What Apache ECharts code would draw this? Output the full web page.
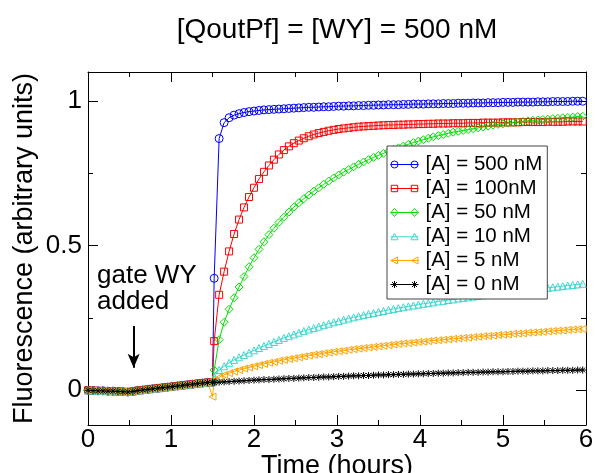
<!DOCTYPE html>
<html>
<head>
<meta charset="utf-8">
<script src="https://cdn.jsdelivr.net/npm/echarts@6/dist/echarts.min.js"></script>
<style>
  html, body { margin: 0; padding: 0; background: #fff; }
  #chart { width: 595px; height: 473px; }
</style>
</head>
<body>
<div id="chart"></div>
<script>
// sample times (hours): before and after the injection at 1.5 h
const preTimes = [0, 0.06, 0.12, 0.18, 0.24, 0.3, 0.36, 0.42, 0.48, 0.54, 0.6, 0.66, 0.72,
  0.78, 0.84, 0.9, 0.96, 1.02, 1.08, 1.14, 1.2, 1.26, 1.32, 1.38, 1.44, 1.5]
const postTimes = [1.52, 1.58, 1.64, 1.7, 1.76, 1.82, 1.88, 1.94, 2, 2.06,
  2.12, 2.18, 2.24, 2.3, 2.36, 2.42, 2.48, 2.54, 2.6, 2.66,
  2.72, 2.78, 2.84, 2.9, 2.96, 3.02, 3.08, 3.14, 3.2, 3.26,
  3.32, 3.38, 3.44, 3.5, 3.56, 3.62, 3.68, 3.74, 3.8, 3.86,
  3.92, 3.98, 4.04, 4.1, 4.16, 4.22, 4.28, 4.34, 4.4, 4.46,
  4.52, 4.58, 4.64, 4.7, 4.76, 4.82, 4.88, 4.94, 5, 5.06,
  5.12, 5.18, 5.24, 5.3, 5.36, 5.42, 5.48, 5.54, 5.6, 5.66,
  5.72, 5.78, 5.84, 5.9, 5.96]

// shared baseline before gate WY / A added (all traces overlap there)
const baseline = [0, -0.001, -0.002, -0.002, -0.003, -0.003, -0.004, -0.005, -0.006, -0.004,
  -0.001, 0.001, 0.003, 0.005, 0.007, 0.009, 0.011, 0.013, 0.015, 0.017,
  0.019, 0.021, 0.023, 0.025, 0.027, 0.028]
const orangeDip = -0.022

const names = ['[A] = 500 nM', '[A] = 100nM', '[A] = 50 nM', '[A] = 10 nM', '[A] = 5 nM', '[A] = 0 nM']

const a500 = [0.387, 0.87, 0.925, 0.942, 0.951, 0.956, 0.96, 0.963, 0.965, 0.967,
  0.969, 0.97, 0.971, 0.972, 0.973, 0.974, 0.975, 0.976, 0.977, 0.978,
  0.978, 0.979, 0.98, 0.98, 0.981, 0.982, 0.982, 0.983, 0.983, 0.984,
  0.984, 0.985, 0.985, 0.986, 0.986, 0.987, 0.987, 0.987, 0.988, 0.988,
  0.989, 0.989, 0.989, 0.99, 0.99, 0.99, 0.991, 0.991, 0.991, 0.992,
  0.992, 0.992, 0.993, 0.993, 0.993, 0.994, 0.994, 0.994, 0.995, 0.995,
  0.995, 0.996, 0.996, 0.996, 0.996, 0.997, 0.997, 0.997, 0.998, 0.998,
  0.998, 0.998, 0.999, 0.999, 0.999]
const a100 = [0.17, 0.33, 0.41, 0.48, 0.54, 0.59, 0.632, 0.668, 0.7, 0.73,
  0.755, 0.777, 0.797, 0.815, 0.83, 0.843, 0.854, 0.863, 0.871, 0.878,
  0.884, 0.889, 0.893, 0.897, 0.9, 0.903, 0.905, 0.907, 0.909, 0.911,
  0.912, 0.913, 0.914, 0.915, 0.916, 0.917, 0.917, 0.918, 0.918, 0.919,
  0.919, 0.92, 0.92, 0.921, 0.921, 0.922, 0.922, 0.922, 0.923, 0.923,
  0.923, 0.924, 0.924, 0.924, 0.925, 0.925, 0.925, 0.925, 0.926, 0.926,
  0.926, 0.926, 0.927, 0.927, 0.927, 0.927, 0.927, 0.928, 0.928, 0.928,
  0.928, 0.929, 0.929, 0.929, 0.929]
const a50 = [0.07, 0.175, 0.235, 0.28, 0.32, 0.357, 0.393, 0.427, 0.458, 0.487,
  0.513, 0.538, 0.56, 0.58, 0.598, 0.616, 0.633, 0.648, 0.662, 0.675,
  0.688, 0.7, 0.712, 0.723, 0.734, 0.744, 0.754, 0.763, 0.772, 0.781,
  0.789, 0.797, 0.805, 0.812, 0.819, 0.826, 0.832, 0.838, 0.844, 0.85,
  0.856, 0.861, 0.866, 0.871, 0.876, 0.88, 0.884, 0.888, 0.892, 0.895,
  0.898, 0.901, 0.904, 0.907, 0.91, 0.913, 0.916, 0.919, 0.921, 0.923,
  0.925, 0.927, 0.929, 0.931, 0.933, 0.934, 0.936, 0.937, 0.939, 0.94,
  0.942, 0.943, 0.944, 0.946, 0.947]
const a10 = [0.045, 0.07, 0.083, 0.095, 0.105, 0.114, 0.122, 0.13, 0.138, 0.146,
  0.153, 0.16, 0.167, 0.174, 0.181, 0.187, 0.193, 0.199, 0.205, 0.21,
  0.215, 0.22, 0.225, 0.23, 0.235, 0.239, 0.244, 0.248, 0.252, 0.256,
  0.26, 0.264, 0.267, 0.271, 0.274, 0.278, 0.281, 0.284, 0.287, 0.29,
  0.293, 0.296, 0.299, 0.301, 0.304, 0.307, 0.309, 0.312, 0.314, 0.317,
  0.319, 0.321, 0.324, 0.326, 0.328, 0.33, 0.332, 0.334, 0.336, 0.338,
  0.34, 0.342, 0.344, 0.346, 0.348, 0.35, 0.352, 0.354, 0.356, 0.358,
  0.36, 0.362, 0.364, 0.366, 0.368]
const a5 = [0.035, 0.045, 0.053, 0.059, 0.065, 0.07, 0.075, 0.079, 0.083, 0.087,
  0.091, 0.095, 0.098, 0.102, 0.105, 0.108, 0.111, 0.114, 0.117, 0.12,
  0.123, 0.125, 0.128, 0.13, 0.133, 0.135, 0.137, 0.14, 0.142, 0.144,
  0.146, 0.148, 0.15, 0.152, 0.154, 0.156, 0.158, 0.16, 0.162, 0.163,
  0.165, 0.167, 0.168, 0.17, 0.172, 0.173, 0.175, 0.176, 0.178, 0.179,
  0.181, 0.182, 0.184, 0.185, 0.187, 0.188, 0.189, 0.191, 0.192, 0.193,
  0.195, 0.196, 0.197, 0.199, 0.2, 0.201, 0.202, 0.204, 0.205, 0.206,
  0.207, 0.209, 0.21, 0.211, 0.212]
const a0 = [0.027, 0.028, 0.029, 0.03, 0.031, 0.032, 0.033, 0.034, 0.035, 0.036,
  0.037, 0.037, 0.038, 0.039, 0.04, 0.041, 0.041, 0.042, 0.043, 0.044,
  0.044, 0.045, 0.046, 0.046, 0.047, 0.048, 0.048, 0.049, 0.05, 0.05,
  0.051, 0.051, 0.052, 0.053, 0.053, 0.054, 0.054, 0.055, 0.055, 0.056,
  0.056, 0.057, 0.057, 0.058, 0.058, 0.059, 0.059, 0.06, 0.06, 0.061,
  0.061, 0.062, 0.062, 0.062, 0.063, 0.063, 0.064, 0.064, 0.064, 0.065,
  0.065, 0.066, 0.066, 0.066, 0.067, 0.067, 0.067, 0.068, 0.068, 0.068,
  0.069, 0.069, 0.069, 0.07, 0.07]

const yMajor = [0, 0.5, 1]
const yMinor = [0.25, 0.75]

// arrow "gate WY added"
const arrowTime = 0.55
const arrowFrom = 0.222
const arrowTo = 0.078

const FONT = '"Liberation Sans", Arial, Helvetica, sans-serif'
const asterisk = 'path://M0,-1L0,1M-1,0L1,0M-0.7,-0.7L0.7,0.7M-0.7,0.7L0.7,-0.7'

// legend icons: a line with one marker at each end (28 x 10 box)
const legendLine = 'M0,5L28,5'
const legendIcons = [
  'path://' + legendLine + 'M7.5,5A3.5,3.5 0 1 1 0.5,5A3.5,3.5 0 1 1 7.5,5M27.5,5A3.5,3.5 0 1 1 20.5,5A3.5,3.5 0 1 1 27.5,5',
  'path://' + legendLine + 'M0.8,1.8L7.2,1.8L7.2,8.2L0.8,8.2ZM20.8,1.8L27.2,1.8L27.2,8.2L20.8,8.2Z',
  'path://' + legendLine + 'M4,1L7.5,5L4,9L0.5,5ZM24,1L27.5,5L24,9L20.5,5Z',
  'path://' + legendLine + 'M4,1.5L7.5,8L0.5,8ZM24,1.5L27.5,8L20.5,8Z',
  'path://' + legendLine + 'M0.5,5L7,1.5L7,8.5ZM21,5L27.5,1.5L27.5,8.5Z',
  'path://' + legendLine + 'M4,1.5L4,8.5M0.5,5L7.5,5M1.5,2.5L6.5,7.5M1.5,7.5L6.5,2.5' +
    'M24,1.5L24,8.5M20.5,5L27.5,5M21.5,2.5L26.5,7.5M21.5,7.5L26.5,2.5'
]

const times = preTimes.concat(postTimes)
const toPoints = (pre, post) => pre.concat(post).map((y, i) => [times[i], y])

const styles = [
  { color: '#0000ff', symbol: 'circle', size: 8, values: a500 },
  { color: '#ff0000', symbol: 'rect', size: 7, values: a100 },
  { color: '#00e000', symbol: 'diamond', size: 8, values: a50 },
  { color: '#40d8d0', symbol: 'triangle', size: 7, values: a10 },
  { color: '#ffa500', symbol: 'triangle', size: 7, rotate: 90, values: a5 },
  { color: '#000000', symbol: asterisk, size: 7, values: a0 }
]

const series = styles.map((s, i) => {
  const pre = i === 4 ? baseline.slice(0, baseline.length - 1).concat([orangeDip]) : baseline
  const item = {
    type: 'line',
    name: names[i],
    data: toPoints(pre, s.values),
    symbol: s.symbol,
    symbolSize: s.size,
    symbolRotate: s.rotate || 0,
    showAllSymbol: true,
    lineStyle: { color: s.color, width: 1 },
    itemStyle: { color: 'transparent', borderColor: s.color, borderWidth: 1 },
    emphasis: { disabled: true },
    animation: false
  }
  if (i === 5) {
    item.markLine = {
      silent: true,
      symbol: ['none', 'arrow'],
      symbolSize: [9, 14],
      lineStyle: { color: '#000', width: 2, type: 'solid' },
      label: { show: false },
      data: [[{ coord: [arrowTime, arrowFrom] }, { coord: [arrowTime, arrowTo] }]]
    }
  }
  return item
})

const legendData = names.map((name, i) => ({
  name,
  icon: legendIcons[i],
  itemStyle: { color: 'transparent', borderColor: styles[i].color, borderWidth: 1 }
}))

const gridRect = { left: 88, right: 9, top: 72, bottom: 48, outerBoundsMode: 'none', containLabel: false }
const axisColor = '#000'

const xBase = {
  type: 'value',
  min: 0,
  max: 6,
  interval: 1,
  axisLine: { onZero: false, lineStyle: { color: axisColor, width: 1 } },
  axisTick: { inside: true, length: 10, lineStyle: { color: axisColor } },
  minorTick: { show: true, splitNumber: 2, length: 5, lineStyle: { color: axisColor } },
  splitLine: { show: false },
  minorSplitLine: { show: false }
}

const yBase = {
  type: 'value',
  min: -0.12,
  max: 1.1,
  axisLine: { onZero: false, lineStyle: { color: axisColor, width: 1 } },
  splitLine: { show: false }
}

const chart = echarts.init(document.getElementById('chart'), null, { renderer: 'canvas' })
chart.setOption({
  animation: false,
  backgroundColor: '#fff',
  textStyle: { fontFamily: FONT },
  title: {
    text: '[QoutPf] = [WY] = 500 nM',
    left: 337,
    top: 16,
    padding: 0,
    textAlign: 'center',
    textStyle: { fontSize: 28, fontWeight: 'normal', color: '#000', fontFamily: FONT }
  },
  grid: [gridRect, gridRect],
  xAxis: [
    {
      ...xBase,
      gridIndex: 0,
      position: 'bottom',
      axisLabel: { fontSize: 26, color: '#000', margin: 2, fontFamily: FONT },
      name: 'Time (hours)',
      nameLocation: 'middle',
      nameGap: 28,
      nameMoveOverlap: false,
      nameTextStyle: { fontSize: 27, color: '#000', fontFamily: FONT, verticalAlign: 'top' }
    },
    { ...xBase, gridIndex: 0, position: 'top', axisLabel: { show: false } },
    { ...xBase, gridIndex: 1, show: false }
  ],
  yAxis: [
    {
      ...yBase,
      gridIndex: 0,
      position: 'left',
      axisTick: { inside: true, length: 10, customValues: yMajor, lineStyle: { color: axisColor } },
      axisLabel: { customValues: yMajor, fontSize: 26, color: '#000', margin: 6, fontFamily: FONT },
      name: 'Fluorescence (arbitrary units)',
      nameLocation: 'middle',
      nameGap: 50,
      nameMoveOverlap: false,
      nameTextStyle: { fontSize: 27, color: '#000', fontFamily: FONT }
    },
    {
      ...yBase,
      gridIndex: 0,
      position: 'right',
      axisTick: { inside: true, length: 10, customValues: yMajor, lineStyle: { color: axisColor } },
      axisLabel: { show: false }
    },
    {
      ...yBase,
      gridIndex: 1,
      position: 'left',
      axisLine: { show: false, onZero: false },
      axisTick: { inside: true, length: 5, customValues: yMinor, lineStyle: { color: axisColor } },
      axisLabel: { show: false }
    },
    {
      ...yBase,
      gridIndex: 1,
      position: 'right',
      axisLine: { show: false, onZero: false },
      axisTick: { inside: true, length: 5, customValues: yMinor, lineStyle: { color: axisColor } },
      axisLabel: { show: false }
    }
  ],
  legend: {
    orient: 'vertical',
    left: 387,
    top: 146,
    padding: [8, 5, 4, 3],
    itemGap: 3,
    itemWidth: 28,
    itemHeight: 10,
    selectedMode: false,
    backgroundColor: '#fff',
    borderColor: '#444',
    borderWidth: 1,
    textStyle: { fontSize: 20.5, color: '#000', fontFamily: FONT, padding: [0, 0, 0, 2] },
    data: legendData
  },
  graphic: [
    {
      type: 'text',
      left: 97,
      top: 263,
      style: { text: 'gate WY\nadded', font: '26px ' + FONT, fill: '#000', lineHeight: 26 }
    }
  ],
  series
})
</script>
</body>
</html>
